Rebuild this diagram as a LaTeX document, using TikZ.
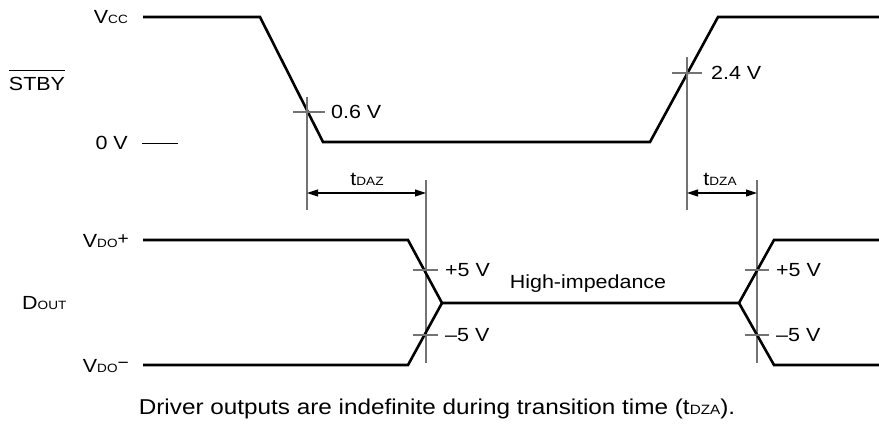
\documentclass[tikz,border=0pt]{standalone}
\usepackage{fontspec}
\setmainfont{Liberation Sans}[FakeStretch=1.13]
\usetikzlibrary{arrows.meta}
\tikzset{
 wave/.style={line width=2.6pt, line join=miter, line cap=butt},
 refl/.style={line width=1.2pt, draw=black!55},
 dimarrow/.style={line width=1.1pt, {Triangle[length=11pt,width=7pt]}-{Triangle[length=11pt,width=7pt]}},
 lbl/.style={font=\fontsize{19}{21}\selectfont, inner sep=0pt},
 caplbl/.style={font=\fontsize{21.5}{23}\selectfont, inner sep=0pt},
}
\newcommand{\smc}[1]{{\fontsize{12}{13}\selectfont #1}}
\newcommand{\smcc}[1]{{\fontsize{13.5}{14}\selectfont #1}}
\begin{document}
\begin{tikzpicture}[x=1pt,y=-1pt]
\useasboundingbox (0,0) rectangle (879,429);
% STBY waveform
\coordinate (s0) at (143,17);
\coordinate (s1) at (260,17);
\coordinate (s2) at (323,142);
\coordinate (s3) at (650,142);
\coordinate (s4) at (718,17);
\coordinate (s5) at (879,17);
\draw[wave] (s0) -- (s1) -- (s2) -- (s3) -- (s4) -- (s5);
\coordinate (z0) at (142,143);
\coordinate (z1) at (178,143);
\draw[line width=1pt] (z0) -- (z1);
% reference lines for STBY
\coordinate (a0) at (307,97);
\coordinate (a1) at (307,210);
\coordinate (a2) at (293,112);
\coordinate (a3) at (325,112);
\draw[refl] (a0) -- (a1);
\draw[refl] (a2) -- (a3);
\coordinate (b0) at (687,57);
\coordinate (b1) at (687,210);
\coordinate (b2) at (672,73);
\coordinate (b3) at (702,73);
\draw[refl] (b0) -- (b1);
\draw[refl] (b2) -- (b3);
% timing verticals
\coordinate (c0) at (426,180);
\coordinate (c1) at (426,363);
\coordinate (d0) at (757,180);
\coordinate (d1) at (757,363);
\draw[refl] (c0) -- (c1);
\draw[refl] (d0) -- (d1);
% dimension arrows
\coordinate (ta0) at (307,193);
\coordinate (ta1) at (426,193);
\coordinate (tb0) at (687,193);
\coordinate (tb1) at (757,193);
\draw[dimarrow] (ta0) -- (ta1);
\draw[dimarrow] (tb0) -- (tb1);
% DOUT waveforms
\coordinate (p0) at (143,240);
\coordinate (p1) at (408,240);
\coordinate (m0) at (442,303);
\coordinate (m1) at (739,303);
\coordinate (p2) at (774,240);
\coordinate (p3) at (879,240);
\coordinate (n0) at (143,365);
\coordinate (n1) at (408,365);
\coordinate (n2) at (774,365);
\coordinate (n3) at (879,365);
\draw[wave] (p0) -- (p1) -- (m0) -- (m1) -- (p2) -- (p3);
\draw[wave] (n0) -- (n1) -- (m0);
\draw[wave] (m1) -- (n2) -- (n3);
% ticks
\coordinate (k0) at (413,270); \coordinate (k1) at (438,270);
\coordinate (k2) at (413,335); \coordinate (k3) at (438,335);
\coordinate (k4) at (745,270); \coordinate (k5) at (769,270);
\coordinate (k6) at (745,335); \coordinate (k7) at (769,335);
\draw[refl] (k0) -- (k1);
\draw[refl] (k2) -- (k3);
\draw[refl] (k4) -- (k5);
\draw[refl] (k6) -- (k7);
% labels
\node[lbl, anchor=east] (vcc) at (128,17) {V\smc{CC}};
\node[lbl] (stby) at (37,84) {STBY};
\draw[line width=1pt] ([yshift=7pt]stby.north west) -- ([yshift=7pt]stby.north east);
\node[lbl, anchor=east] (zv) at (128,143) {0 V};
\node[lbl, anchor=west] (l06) at (331,112) {0.6 V};
\node[lbl, anchor=west] (l24) at (711,73) {2.4 V};
\node[lbl] (tdaz) at (367,179) {t\smc{DAZ}};
\node[lbl] (tdza) at (720,179) {t\smc{DZA}};
\node[lbl, anchor=east] (vdop) at (129,241) {V\smc{DO}\raisebox{3pt}{\fontsize{17}{17}\selectfont +}};
\node[lbl, anchor=east] (vdom) at (129,366) {V\smc{DO}\raisebox{4pt}{\fontsize{17}{17}\selectfont −}};
\node[lbl, anchor=west] (dout) at (22,303) {D\smc{OUT}};
\node[lbl, anchor=west] (p5a) at (445,270) {+5 V};
\node[lbl, anchor=west] (m5a) at (445,335) {–5 V};
\node[lbl, anchor=west] (p5b) at (776,270) {+5 V};
\node[lbl, anchor=west] (m5b) at (776,335) {–5 V};
\node[lbl] (hi) at (588,284) {High-impedance};
\node[caplbl] (cap) at (437,409) {Driver outputs are indefinite during transition time (t\smcc{DZA}).};
\end{tikzpicture}
\end{document}
